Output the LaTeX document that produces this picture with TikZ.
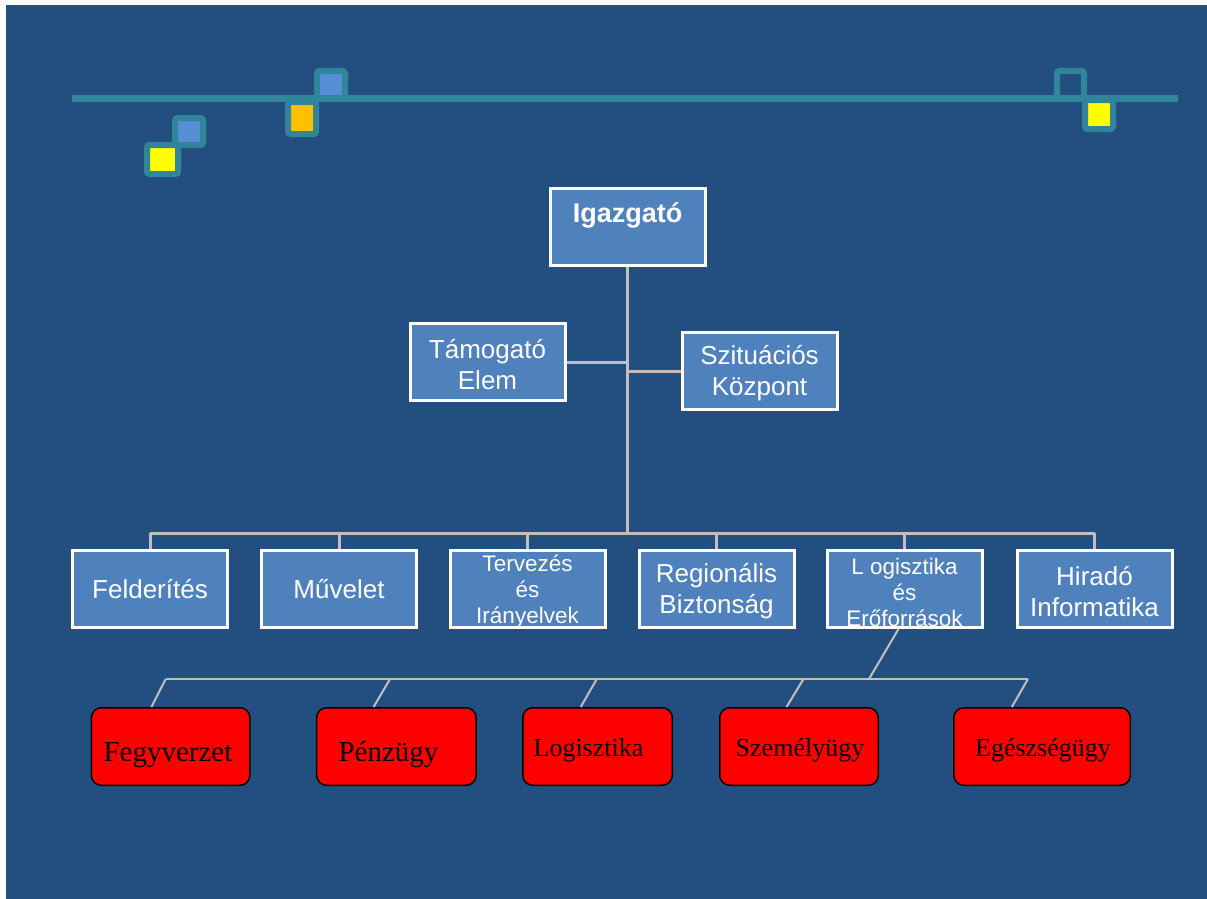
\documentclass[tikz,border=0pt]{standalone}
\usepackage{fontspec}
\setmainfont{Liberation Sans}
\newfontfamily\serifface{Liberation Serif}

\definecolor{slidebg}{RGB}{35,79,128}
\definecolor{accentteal}{RGB}{49,133,155}
\definecolor{tileblue}{RGB}{85,142,213}
\definecolor{tileorange}{RGB}{255,192,0}
\definecolor{tileyellow}{RGB}{255,255,0}
\definecolor{boxfill}{RGB}{79,129,189}
\definecolor{linkgrey}{RGB}{191,191,191}

% taller first line so stacked labels sit a little lower in their boxes
\newcommand\bigtop{\rule{0pt}{24pt}}

\begin{document}
\begin{tikzpicture}[x=1pt,y=-1pt,
  tile/.style={draw=accentteal, line width=6pt, rounded corners=2.5pt},
  unit/.style={draw=white, line width=3pt, fill=boxfill, text=white,
    minimum width=155pt, minimum height=77pt, inner sep=0pt, align=center,
    font=\fontsize{26}{31}\selectfont},
  smalltext/.style={text=white, inner sep=0pt, align=center, yshift=-3pt,
    font=\fontsize{22.5}{26}\selectfont},
  unittext/.style={text=white, inner sep=0pt},
  link/.style={draw=linkgrey, line width=3pt},
  thinlink/.style={draw=linkgrey, line width=2pt},
  office/.style={draw=black, line width=1.5pt, fill=red, rounded corners=10pt,
    minimum height=77.5pt, inner sep=0pt},
  officetext/.style={anchor=base, text=black, inner sep=0pt}
]
\useasboundingbox (0,0) rectangle (1207,899);
\fill[white] (0,0) rectangle (1207,899);
\fill[slidebg] (6,5) rectangle (1207,899);

% decorative rule with tiles
\draw[accentteal, line width=7pt] (72,98.5) -- (1178,98.5);
\draw[tile, fill=tileblue]   (175,118) rectangle (203,145);
\draw[tile, fill=tileyellow] (147,145) rectangle (178,174);
\draw[tile, fill=tileblue]   (317,71) rectangle (345,98);
\draw[tile, fill=tileorange] (288,102) rectangle (316,134);
\draw[tile]                  (1057,71) rectangle (1084,98);
\draw[tile, fill=tileyellow] (1085,100) rectangle (1113,129);

% head and staff
\node[unit] (igazgato) at (627.5,227) {};
\node[unittext, font=\fontsize{27}{32}\selectfont\bfseries] (igazgatotext) at (627.5,215) {Igazgató};
\node[unit] (tamogato) at (487.5,362) {\bigtop Támogató\\Elem};
\node[unit] (szituacios) at (759.5,371) {\bigtop Szituációs\\Központ};

% departments
\node[unit] (felderites) at (150,589) {Felderítés};
\node[unit] (muvelet) at (339,589) {Művelet};
\node[unit, label={[smalltext]center:Tervezés\\és\\Irányelvek}] (tervezes) at (527.5,589) {};
\node[unit] (regionalis) at (716.5,589) {\bigtop Regionális\\Biztonság};
\node[unit, label={[smalltext]center:L ogisztika\\és\\Erőforrások}] (logisztika) at (904.5,589) {};
\node[unit] (hirado) at (1094.5,589) {\bigtop Hiradó\\Informatika};

\coordinate (bar) at (628,533);
\draw[link] (igazgato.south) -- (igazgato.south |- bar);
\draw[link] (tamogato.east) -- (tamogato.east -| igazgato.south);
\draw[link] (szituacios.west) -- (szituacios.west -| igazgato.south);
\draw[link] (felderites.north |- bar) -- (hirado.north |- bar);
\foreach \d in {felderites,muvelet,tervezes,regionalis,logisztika,hirado}
  \draw[link] (\d.north) -- (\d.north |- bar);

% sub-units of logistics
\node[office, minimum width=158.5pt] (fegyverzet) at (170.7,746.5) {};
\node[office, minimum width=159.5pt] (penzugy) at (396.4,746.5) {};
\node[office, minimum width=149.5pt] (logi) at (597.5,746.5) {};
\node[office, minimum width=158.5pt] (szemelyugy) at (799,746.5) {};
\node[office, minimum width=176.5pt] (egeszsegugy) at (1042,746.5) {};

\node[officetext, font=\serifface\fontsize{29}{34}\selectfont] (t1) at (168,761.5) {Fegyverzet};
\node[officetext, font=\serifface\fontsize{29}{34}\selectfont] (t2) at (388.5,761.5) {Pénzügy};
\node[officetext, font=\serifface\fontsize{26}{31}\selectfont] (t3) at (588.5,756) {Logisztika};
\node[officetext, font=\serifface\fontsize{26}{31}\selectfont] (t4) at (800,756) {Személyügy};
\node[officetext, font=\serifface\fontsize{26}{31}\selectfont] (t5) at (1043,756.5) {Egészségügy};

\coordinate (pj) at (869,679);
\coordinate (j1) at (165.7,679);
\coordinate (j2) at (390,679);
\coordinate (j3) at (596.8,679);
\coordinate (j4) at (803.5,679);
\coordinate (j5) at (1028,679);
\draw[thinlink] ([xshift=-6pt]logisztika.south) -- (pj);
\draw[thinlink] (j1) -- (j5);
\draw[thinlink] (j1) -- ([xshift=-19.3pt]fegyverzet.north);
\draw[thinlink] (j2) -- ([xshift=-22.8pt]penzugy.north);
\draw[thinlink] (j3) -- ([xshift=-16.8pt]logi.north);
\draw[thinlink] (j4) -- ([xshift=-12.5pt]szemelyugy.north);
\draw[thinlink] (j5) -- ([xshift=-30.2pt]egeszsegugy.north);
\end{tikzpicture}
\end{document}
